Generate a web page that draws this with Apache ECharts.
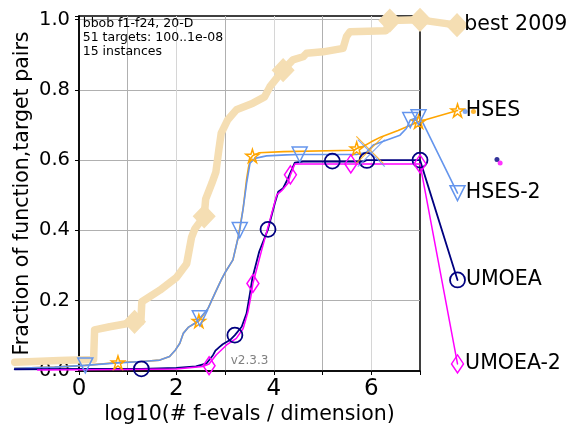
<!DOCTYPE html>
<html><head><meta charset="utf-8">
<script src="https://cdn.jsdelivr.net/npm/echarts@6/dist/echarts.min.js"></script>
<style>html,body{margin:0;padding:0;background:#fff}#c{width:569px;height:427px}</style>
</head><body><div id="c"></div>
<script>
const FONT = 'DejaVu Sans';
const xTickValues = [0, 1, 2, 3, 4, 5, 6, 7];
const xTickLabels = ['0', '', '2', '', '4', '', '6', ''];
const yTickLabels = ['0.0', '0.2', '0.4', '0.6', '0.8', '1.0'];
const algNames = ['best 2009', 'HSES', 'HSES-2', 'UMOEA', 'UMOEA-2'];
const algColors = ['#F5DEB3', '#FFA500', '#6495ED', '#000080', '#FF00FF'];

const best2009Line = [[-1.32,0.025],[-0.4,0.030],[0.30,0.033],[0.32,0.117],[0.63,0.126],[1.0,0.135],[1.14,0.140],[1.27,0.140],[1.29,0.197],[1.66,0.230],[2.0,0.266],[2.21,0.305],[2.31,0.380],[2.38,0.405],[2.57,0.440],[2.60,0.489],[2.73,0.535],[2.81,0.566],[2.87,0.629],[2.92,0.677],[3.05,0.714],[3.23,0.743],[3.57,0.762],[3.81,0.780],[3.92,0.809],[4.19,0.856],[4.39,0.885],[4.60,0.894],[4.67,0.904],[5.01,0.908],[5.42,0.918],[5.49,0.951],[5.56,0.965],[6.30,0.968],[6.38,0.997],[7.0,0.999],[7.76,0.984]];
const best2009Marks = [[1.14,0.140],[2.57,0.440],[4.19,0.856],[6.38,0.997],[7.0,0.999],[7.76,0.984]];

const hsesLine = [[-1.32,0.008],[-0.5,0.011],[0.13,0.016],[0.8,0.024],[1.3,0.027],[1.66,0.031],[1.86,0.041],[1.98,0.06],[2.07,0.079],[2.14,0.107],[2.25,0.125],[2.38,0.136],[2.46,0.142],[2.65,0.178],[2.79,0.221],[2.92,0.259],[2.99,0.278],[3.16,0.316],[3.27,0.382],[3.37,0.463],[3.44,0.545],[3.48,0.580],[3.52,0.603],[3.56,0.612],[3.70,0.621],[4.2,0.624],[5.65,0.628],[5.70,0.633],[5.85,0.640],[6.0,0.652],[6.2,0.666],[6.55,0.684],[6.85,0.702],[6.97,0.709],[7.0,0.712],[7.77,0.741]];
const hsesMarks = [[0.80,0.024],[2.46,0.142],[3.56,0.612],[5.70,0.633],[6.97,0.709],[7.77,0.741]];

const hses2Line = [[-1.32,0.008],[-0.5,0.011],[0.13,0.016],[0.8,0.023],[1.3,0.027],[1.66,0.031],[1.86,0.041],[1.98,0.06],[2.07,0.079],[2.14,0.107],[2.25,0.125],[2.38,0.136],[2.48,0.150],[2.65,0.178],[2.79,0.221],[2.92,0.259],[2.99,0.278],[3.16,0.316],[3.27,0.382],[3.30,0.401],[3.37,0.463],[3.44,0.534],[3.51,0.591],[3.61,0.605],[3.85,0.612],[4.26,0.615],[4.53,0.616],[5.7,0.616],[5.9,0.622],[6.04,0.643],[6.32,0.657],[6.59,0.671],[6.72,0.690],[6.80,0.714],[7.0,0.723],[7.77,0.506]];
const hses2Marks = [[0.13,0.016],[2.48,0.150],[3.30,0.401],[4.53,0.616],[6.80,0.714],[6.97,0.722],[7.77,0.506]];

const umoeaLine = [[-1.32,0.005],[0.5,0.006],[1.28,0.006],[2.0,0.009],[2.4,0.013],[2.62,0.022],[2.75,0.045],[2.80,0.058],[2.88,0.068],[2.95,0.076],[3.10,0.088],[3.20,0.102],[3.34,0.126],[3.44,0.164],[3.51,0.221],[3.56,0.265],[3.70,0.340],[3.88,0.403],[4.02,0.477],[4.09,0.510],[4.19,0.520],[4.29,0.548],[4.43,0.593],[4.6,0.596],[5.85,0.596],[5.9,0.600],[7.0,0.600],[7.77,0.259]];
const umoeaMarks = [[1.28,0.006],[3.20,0.102],[3.88,0.403],[5.20,0.597],[5.91,0.599],[7.0,0.600],[7.77,0.259]];

const umoea2Line = [[-0.85,0.003],[1.0,0.004],[2.0,0.006],[2.54,0.013],[2.67,0.020],[2.82,0.046],[3.03,0.074],[3.23,0.093],[3.37,0.121],[3.47,0.169],[3.54,0.221],[3.57,0.249],[3.75,0.344],[3.92,0.430],[4.06,0.501],[4.16,0.513],[4.29,0.534],[4.34,0.558],[4.43,0.589],[7.0,0.589],[7.77,0.020]];
const umoea2Marks = [[2.67,0.015],[3.57,0.249],[4.34,0.558],[5.58,0.589],[7.0,0.589],[7.77,0.020]];

const budgetCross = [[5.97,0.629],[6.00,0.620]];
const extraDots = [[7.926,0.738],[8.097,0.738],[8.58,0.602],[8.645,0.592]];
const extraDotColors = ['#6495ED','#FFA500','#000080','#FF00FF'];

const STAR = 'path://M100,0L122.45,69.1L195.1,69.1L136.3,111.8L158.8,180.9L100,138.2L41.2,180.9L63.7,111.8L4.9,69.1L77.55,69.1Z';
const CROSS = 'path://M0,0L10,10M10,0L0,10';

// frame grid geometry (px) and the wider data grid sharing the same scale
const G = { left: 79, right: 149, top: 16, bottom: 56, W: 569 };
const X0 = 0, X1 = 7, XD0 = -1.5, XD1 = 9.0, YMAX = 1.01;
const pxPerUnit = (G.W - G.left - G.right) / (X1 - X0);
const dataLeft = G.left + (XD0 - X0) * pxPerUnit;
const dataRight = G.W - (G.left + (XD1 - X0) * pxPerUnit);

function lineSeries(data, color, width) {
  return { type: 'line', xAxisIndex: 1, yAxisIndex: 1, data: data, clip: false, symbol: 'none', showSymbol: false,
    lineStyle: { color: color, width: width, cap: 'round', join: 'round' }, silent: true, z: 2 };
}
function markSeries(name, data, color, sym, size, opts) {
  opts = opts || {};
  const d = data.map((p, i) => {
    const item = { value: p };
    if (i === data.length - 1) {
      item.label = { show: true, position: 'right', distance: opts.labelDist || 0, formatter: name,
        fontFamily: FONT, fontSize: 20.5, color: '#000' };
    }
    return item;
  });
  return { type: 'scatter', name: name, xAxisIndex: 1, yAxisIndex: 1, data: d, clip: false, symbol: sym, symbolSize: size,
    symbolRotate: opts.rotate || 0, silent: true, z: 3,
    itemStyle: { color: opts.fill || 'rgba(0,0,0,0)', borderColor: color, borderWidth: opts.bw || 1.5, opacity: 1 } };
}

const chart = echarts.init(document.getElementById('c'), null, { renderer: 'canvas' });
const series = [
  lineSeries(best2009Line, algColors[0], 7.5),
  markSeries(algNames[0], best2009Marks, algColors[0], 'diamond', [21, 22], { fill: algColors[0], bw: 0, labelDist: -4 }),
  lineSeries(hsesLine, algColors[1], 1.6),
  markSeries(algNames[1], hsesMarks, algColors[1], STAR, 13, { labelDist: 1 }),
  lineSeries(hses2Line, algColors[2], 1.6),
  markSeries(algNames[2], hses2Marks, algColors[2], 'triangle', 15, { rotate: 180, labelDist: 0 }),
  lineSeries(umoeaLine, algColors[3], 1.8),
  markSeries(algNames[3], umoeaMarks, algColors[3], 'circle', 15, { bw: 1.8, labelDist: 0 }),
  lineSeries(umoea2Line, algColors[4], 1.5),
  markSeries(algNames[4], umoea2Marks, algColors[4], 'diamond', [12, 18], { labelDist: 1 }),
  { type: 'scatter', xAxisIndex: 1, yAxisIndex: 1,
    data: budgetCross.map((p, i) => ({ value: p, itemStyle: { borderColor: [algColors[1], algColors[2]][i] } })),
    clip: false, symbol: CROSS, symbolSize: 27, silent: true, z: 3,
    itemStyle: { color: 'rgba(0,0,0,0)', borderWidth: 1.2 } },
  { type: 'scatter', xAxisIndex: 1, yAxisIndex: 1,
    data: extraDots.map((p, i) => ({ value: p, itemStyle: { color: extraDotColors[i] } })),
    clip: false, symbol: 'circle', symbolSize: 5, silent: true, z: 3 }
];

chart.setOption({
  animation: false,
  backgroundColor: '#fff',
  grid: [
    { left: G.left, right: G.right, top: G.top, bottom: G.bottom, show: true, borderColor: '#000', borderWidth: 1.5, backgroundColor: 'transparent' },
    { left: dataLeft, right: dataRight, top: G.top, bottom: G.bottom, show: false }
  ],
  xAxis: [{
    type: 'value', gridIndex: 0, min: X0, max: X1, interval: 1,
    axisLine: { show: true, lineStyle: { color: '#000', width: 1.5 } },
    axisTick: { show: true, length: 4, lineStyle: { color: '#000', width: 1 } },
    axisLabel: { margin: 7, fontFamily: FONT, fontSize: 23, color: '#000',
      formatter: v => { const i = xTickValues.indexOf(Math.round(v)); return i >= 0 ? xTickLabels[i] : ''; } },
    splitLine: { show: true, showMinLine: false, showMaxLine: false,
      lineStyle: { color: ['#b0b0b0', '#d6d6d6'], width: 1 } }
  }, {
    type: 'value', gridIndex: 1, min: XD0, max: XD1, show: false
  }],
  yAxis: [{
    type: 'value', gridIndex: 0, min: 0, max: YMAX, interval: 0.2,
    axisLine: { show: true, lineStyle: { color: '#000', width: 1.5 } },
    axisTick: { show: true, length: 4, lineStyle: { color: '#000', width: 1 } },
    axisLabel: { margin: 9, fontFamily: FONT, fontSize: 19.5, color: '#000',
      formatter: v => { const k = v * 5; return Math.abs(k - Math.round(k)) < 1e-6 ? yTickLabels[Math.round(k)] : ''; } },
    splitLine: { show: true, showMinLine: false, showMaxLine: false, lineStyle: { color: '#b0b0b0', width: 1 } }
  }, {
    type: 'value', gridIndex: 1, min: 0, max: YMAX, show: false
  }],
  graphic: [
    { type: 'text', x: 82.7, y: 16.5, z: 10, style: { text: 'bbob f1-f24, 20-D\n51 targets: 100..1e-08\n15 instances',
      font: '12.5px "DejaVu Sans"', lineHeight: 14, fill: '#000' } },
    { type: 'text', x: 230.7, y: 361, z: 10, style: { text: 'v2.3.3', font: '12px "DejaVu Sans"', fill: '#808080', verticalAlign: 'middle', textVerticalAlign: 'middle' } },
    { type: 'text', x: 23, y: 193.5, rotation: Math.PI / 2, z: 10, style: { text: 'Fraction of function,target pairs',
      font: '20.5px "DejaVu Sans"', fill: '#000', align: 'center', textAlign: 'center', verticalAlign: 'middle', textVerticalAlign: 'middle' } },
    { type: 'text', x: 249.5, y: 415, z: 10, style: { text: 'log10(# f-evals / dimension)',
      font: '20.5px "DejaVu Sans"', fill: '#000', align: 'center', textAlign: 'center', verticalAlign: 'middle', textVerticalAlign: 'middle' } }
  ],
  series: series
});
</script>
</body></html>
